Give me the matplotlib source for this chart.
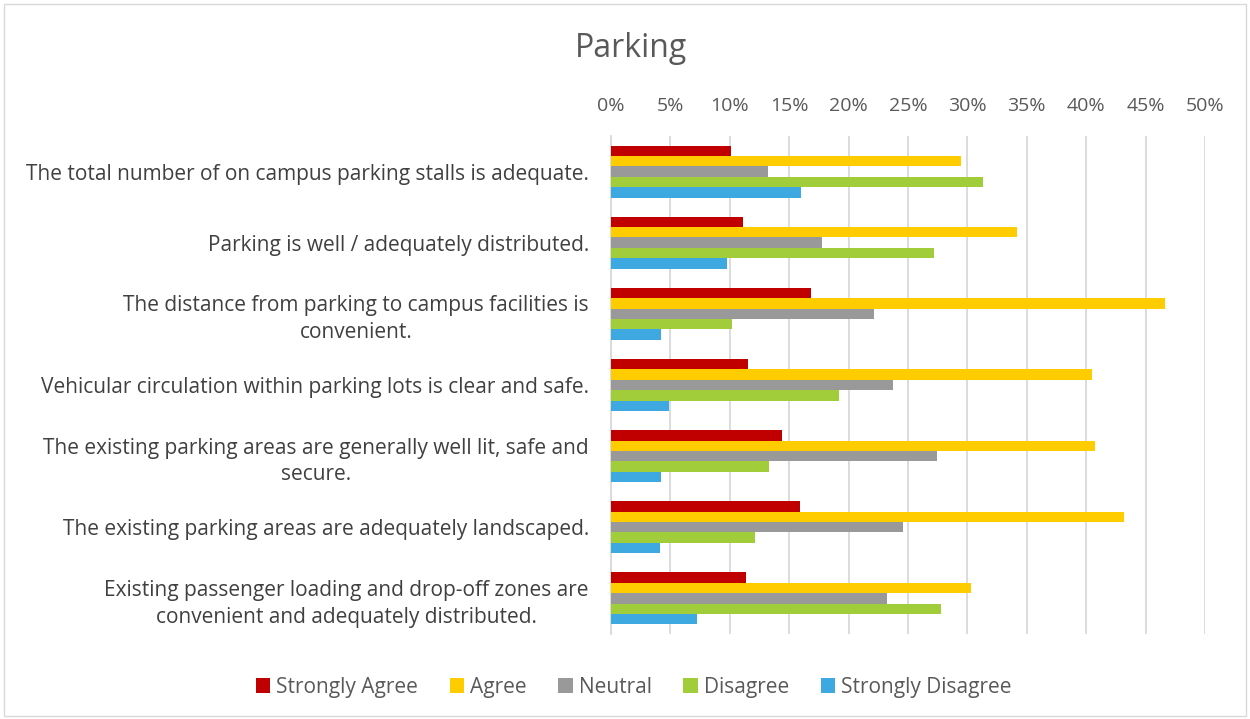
import numpy as np
import matplotlib.pyplot as plt
from matplotlib.ticker import PercentFormatter

plt.rcParams['font.family'] = ['Open Sans', 'DejaVu Sans']

categories = [
    "The total number of on campus parking stalls is adequate.",
    "Parking is well / adequately distributed.",
    "The distance from parking to campus facilities is\nconvenient.",
    "Vehicular circulation within parking lots is clear and safe.",
    "The existing parking areas are generally well lit, safe and\nsecure.",
    "The existing parking areas are adequately landscaped.",
    "Existing passenger loading and drop-off zones are\nconvenient and adequately distributed.",
]
series = ["Strongly Agree", "Agree", "Neutral", "Disagree", "Strongly Disagree"]
strongly_agree = [10.1, 11.1, 16.8, 11.5, 14.4, 15.9, 11.4]
agree = [29.5, 34.2, 46.6, 40.5, 40.7, 43.2, 30.3]
neutral = [13.2, 17.8, 22.1, 23.7, 27.4, 24.6, 23.2]
disagree = [31.3, 27.2, 10.2, 19.2, 13.3, 12.1, 27.8]
strongly_disagree = [16.0, 9.8, 4.2, 4.9, 4.2, 4.1, 7.2]
colors = ['#C00000', '#FFCC00', '#999999', '#A2CD3A', '#3DA9E0']

values = [strongly_agree, agree, neutral, disagree, strongly_disagree]

fig = plt.figure(figsize=(12.5, 7.19), dpi=100)
ax = fig.add_axes([0.4888, 0.1182, 0.4752, 0.6927])

y = np.arange(len(categories))
h = 0.146
for i, (name, vals, c) in enumerate(zip(series, values, colors)):
    ax.barh(y + (i - 2) * h, vals, height=h, color=c, label=name, zorder=3)

ax.set_xlim(0, 50)
ax.set_ylim(len(categories) - 0.5, -0.5)
ax.set_xticks(np.arange(0, 51, 5))
ax.xaxis.set_major_formatter(PercentFormatter(decimals=0))
ax.xaxis.tick_top()
ax.tick_params(axis='x', length=0, labelsize=14, colors='#595959', pad=15)
ax.set_yticks(y)
ax.set_yticklabels(categories, fontsize=15, color='#404040', ha='right',
                   multialignment='center', linespacing=1.35)
ax.tick_params(axis='y', length=0, pad=16)
ax.grid(axis='x', color='#D9D9D9', linewidth=1.3, zorder=0)
for s in ['top', 'right', 'bottom']:
    ax.spines[s].set_visible(False)
ax.spines['left'].set_color('#D9D9D9')
ax.spines['left'].set_linewidth(1.3)

fig.text(0.505, 0.933, 'Parking', ha='center', va='center', fontsize=23, color='#595959')

fig.legend(loc='center', bbox_to_anchor=(0.507, 0.044), ncol=5, frameon=False,
           fontsize=15, handlelength=0.7, handleheight=0.7, handletextpad=0.3,
           columnspacing=1.5, labelcolor='#595959')

border = plt.Rectangle((0.003, 0.004), 0.994, 0.99, transform=fig.transFigure,
                       fill=False, edgecolor='#D9D9D9', linewidth=1)
fig.patches.append(border)

plt.savefig('out.png', dpi=100)
